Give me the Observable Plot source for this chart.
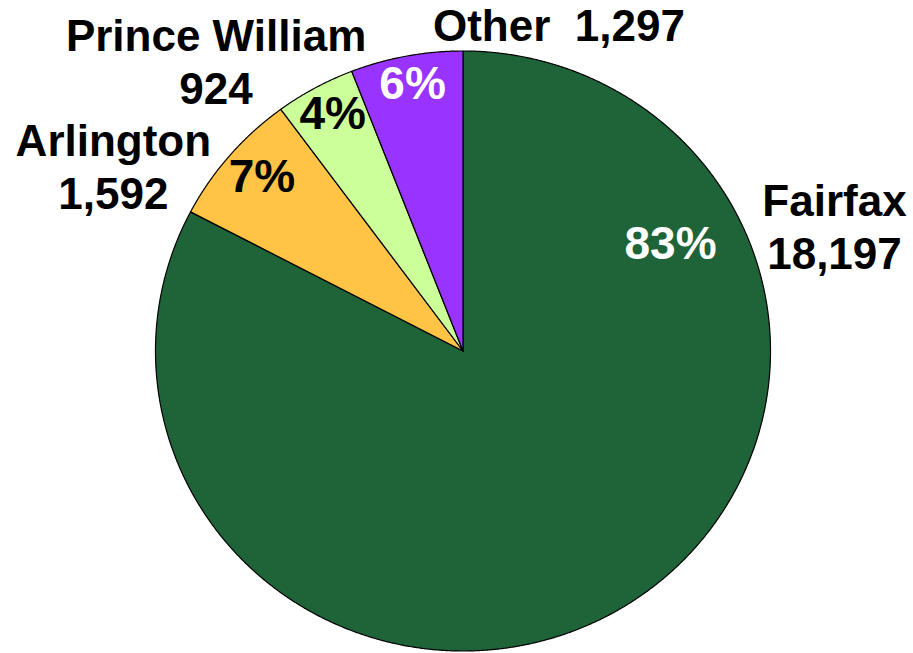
<!DOCTYPE html>
<html>
<head>
<meta charset="utf-8">
<script src="https://cdn.jsdelivr.net/npm/d3@7"></script>
<script src="https://cdn.jsdelivr.net/npm/@observablehq/plot@0.6"></script>
<style>
  html, body { margin: 0; padding: 0; background: white; }
  #chart svg { display: block; }
</style>
</head>
<body>
<div id="chart"></div>
<script>
// ---- data ----
const counties = ["Fairfax", "Arlington", "Prince William", "Other"];
const residents = [18197, 1592, 924, 1297];

// ---- styles / layout ----
const sliceColors = ["#1f6339", "#ffc345", "#ccff99", "#9933ff"];
const pctInk = ["white", "black", "black", "white"];
// label anchor positions in pie-radius units (relative to pie centre)
const nameLabelPos = [[1.208, 0.418], [-1.137, 0.618], [-0.803, 0.968], [0.312, 1.089]];
const pctLabelPos = [[0.675, 0.357], [-0.654, 0.580], [-0.424, 0.790], [-0.164, 0.890]];

const total = d3.sum(residents);
const fmt = d3.format(",");

// slice outlines (angles clockwise from 12 o'clock)
let acc = 0;
const slicePts = [];
counties.forEach((c, i) => {
  const a0 = acc / total * 2 * Math.PI;
  acc += residents[i];
  const a1 = acc / total * 2 * Math.PI;
  const n = Math.max(2, Math.ceil((a1 - a0) / (Math.PI / 720)));
  slicePts.push({county: c, x: 0, y: 0});
  for (let k = 0; k <= n; k++) {
    const a = a0 + (a1 - a0) * k / n;
    slicePts.push({county: c, x: Math.sin(a), y: Math.cos(a)});
  }
  slicePts.push({county: c, x: 0, y: 0});
});

const labels = counties.map((c, i) => ({
  county: c,
  name: c === "Other" ? c + "\u00a0\u00a0" + fmt(residents[i]) : c + "\n" + fmt(residents[i]),
  pct: Math.round(residents[i] / total * 100) + "%",
  nx: nameLabelPos[i][0], ny: nameLabelPos[i][1],
  px: pctLabelPos[i][0], py: pctLabelPos[i][1],
  ink: pctInk[i]
}));

const chart = Plot.plot({
  width: 913,
  height: 653,
  margin: 0,
  style: {background: "white", fontFamily: "'Liberation Sans', Arial, sans-serif", overflow: "visible"},
  x: {domain: [-1.504, 1.465], range: [0, 913], axis: null},
  y: {domain: [-1.0083, 1.1683], range: [653, 0], axis: null},
  color: {domain: counties, range: sliceColors},
  marks: [
    Plot.line(slicePts, {x: "x", y: "y", z: "county", fill: "county", stroke: "black", strokeWidth: 1.2, strokeLinejoin: "round"}),
    Plot.text(labels, {x: "nx", y: "ny", text: "name", fontSize: 44, fontWeight: "bold", fill: "black", lineHeight: 1.2}),
    Plot.text(labels.filter(d => d.ink === "white"), {x: "px", y: "py", text: "pct", fontSize: 46, fontWeight: "bold", fill: "white"}),
    Plot.text(labels.filter(d => d.ink === "black"), {x: "px", y: "py", text: "pct", fontSize: 46, fontWeight: "bold", fill: "black"})
  ]
});
document.getElementById("chart").appendChild(chart);
</script>
</body>
</html>
